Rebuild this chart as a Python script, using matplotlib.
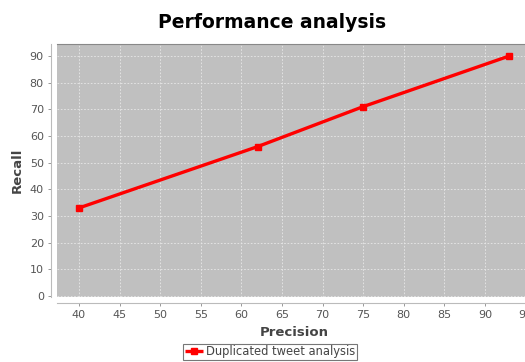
import numpy as np
import matplotlib.pyplot as plt

# data
precision = [40, 62, 75, 93]
recall = [33, 56, 71, 90]
xticks = [40, 45, 50, 55, 60, 65, 70, 75, 80, 85, 90, 95]
yticks = [0, 10, 20, 30, 40, 50, 60, 70, 80, 90]

fig = plt.figure(figsize=(5.25, 3.62), dpi=100)
# plot area runs past the right edge, like the original (clipped) image
ax = fig.add_axes([57/525, 1-297/362, (532-57)/525, (297-44)/362])
ax.set_facecolor('#c0c0c0')

ax.plot(precision, recall, color='#ff0000', lw=2.4, marker='s', ms=4.5,
        label='Duplicated tweet analysis', solid_capstyle='butt')

ax.set_xlim(37.3, 95.8)
ax.set_ylim(-0.4, 94.5)
ax.set_xticks(xticks)
ax.set_yticks(yticks)
ax.grid(True, color='#e8e8e8', ls=(0, (2, 2)), lw=0.6)
ax.set_axisbelow(True)

for s in ['top', 'right']:
    ax.spines[s].set_color('#888888')
    ax.spines[s].set_linewidth(0.8)
ax.spines['left'].set_position(('outward', 4))
ax.spines['bottom'].set_position(('outward', 4))
ax.spines['left'].set_color('#bbbbbb')
ax.spines['bottom'].set_color('#bbbbbb')
ax.tick_params(colors='#888888', labelcolor='#555555', labelsize=8, length=2, width=0.6)

ax.set_xlabel('Precision', fontsize=9.5, fontweight='bold', color='#444444', labelpad=4)
ax.set_ylabel('Recall', fontsize=9.5, fontweight='bold', color='#444444', labelpad=4)

fig.text(272/525, 1-22/362, 'Performance analysis', ha='center', va='center',
         fontsize=13.5, fontweight='bold')

leg = fig.legend(loc='center', bbox_to_anchor=(270/525, 1-352/362), fontsize=8.3,
                 frameon=True, fancybox=False, handlelength=1.6, handletextpad=0.2,
                 borderpad=0.15, borderaxespad=0)
leg.get_frame().set_edgecolor('#555555')
leg.get_frame().set_linewidth(0.8)
for t in leg.get_texts():
    t.set_color('#444444')

plt.savefig('out.png', dpi=100)
